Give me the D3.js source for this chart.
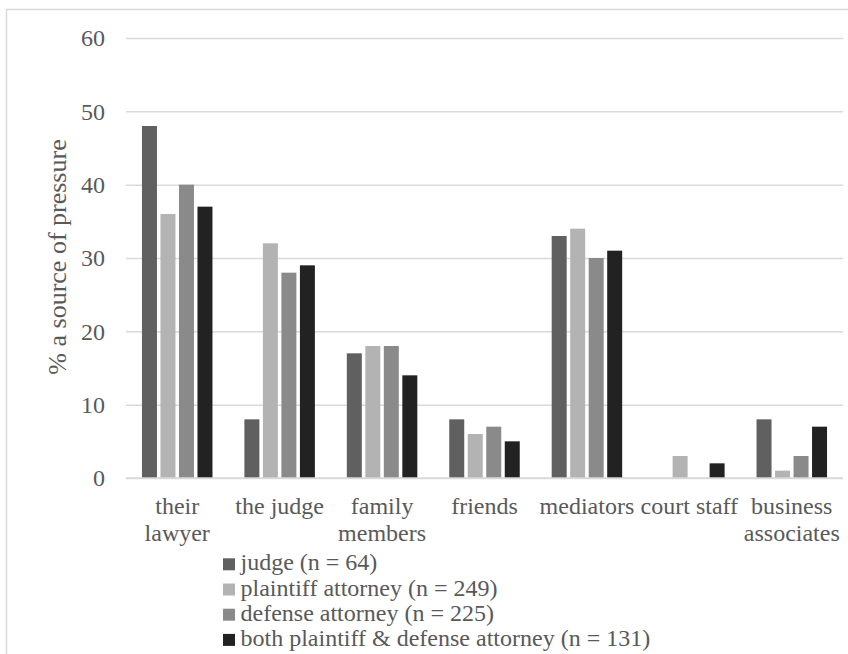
<!DOCTYPE html>
<html>
<head>
<meta charset="utf-8">
<script src="https://cdn.jsdelivr.net/npm/d3@7"></script>
<style>
  html, body { margin: 0; padding: 0; background: #fff; }
  svg { display: block; }
  text { font-family: "Liberation Serif", "Times New Roman", serif; fill: #595959; }
</style>
</head>
<body>
<svg id="chart" width="848" height="654"></svg>
<script>
const categories = ["their lawyer", "the judge", "family members", "friends", "mediators", "court staff", "business associates"];
const seriesNames = ["judge (n = 64)", "plaintiff attorney (n = 249)", "defense attorney (n = 225)", "both plaintiff & defense attorney (n = 131)"];
const judgeValues = [48, 8, 17, 8, 33, 0, 8];
const plaintiffValues = [36, 32, 18, 6, 34, 3, 1];
const defenseValues = [40, 28, 18, 7, 30, 0, 3];
const bothValues = [37, 29, 14, 5, 31, 2, 7];
const yTicks = [0, 10, 20, 30, 40, 50, 60];
const yTitle = "% a source of pressure";

const seriesValues = [judgeValues, plaintiffValues, defenseValues, bothValues];
const colors = ["#606060", "#b3b3b3", "#8a8a8a", "#222222"];
const FONT = "Liberation Serif, Times New Roman, serif";

const svg = d3.select("#chart");
const W = 848, H = 654;
const plot = { left: 126, right: 843, top: 38, bottom: 478 };
const fontSize = 24;

// frame
svg.append("path")
  .attr("d", `M6.5,${H} L6.5,9.5 L${W},9.5`)
  .attr("fill", "none").attr("stroke", "#d9d9d9").attr("stroke-width", 1.5);

const x = d3.scaleBand().domain(categories).range([plot.left, plot.right]).padding(0);
const bw = x.bandwidth();
const groupSpan = 70.5;
const xs = d3.scaleBand().domain(d3.range(seriesNames.length))
  .range([bw / 2 - groupSpan / 2, bw / 2 + groupSpan / 2]).paddingInner(0.19).paddingOuter(0);
const y = d3.scaleLinear().domain([0, 60]).range([plot.bottom, plot.top]);

// gridlines + tick labels
const yAxis = d3.axisLeft(y).tickValues(yTicks).tickSize(-(plot.right - plot.left)).tickPadding(21);
const gy = svg.append("g").attr("transform", `translate(${plot.left},0)`).call(yAxis);
gy.attr("font-family", FONT);
gy.select(".domain").remove();
gy.selectAll(".tick line").attr("stroke", "#d9d9d9").attr("stroke-width", 1.5);
gy.selectAll(".tick text").attr("font-size", fontSize)
  .attr("font-family", FONT).attr("fill", "#595959").attr("dy", "0.33em");

// bars
const groups = svg.append("g").selectAll("g").data(categories).join("g")
  .attr("transform", d => `translate(${x(d)},0)`);
groups.selectAll("rect")
  .data((c, ci) => seriesValues.map((vals, si) => ({ si, v: vals[ci] })))
  .join("rect")
  .attr("x", d => xs(d.si))
  .attr("width", xs.bandwidth())
  .attr("y", d => y(d.v))
  .attr("height", d => y(0) - y(d.v))
  .attr("fill", d => colors[d.si]);

// baseline
svg.append("line").attr("x1", plot.left).attr("x2", plot.right)
  .attr("y1", y(0)).attr("y2", y(0)).attr("stroke", "#d9d9d9").attr("stroke-width", 1.5);

// category labels with wrapping
const measure = svg.append("text").attr("font-size", fontSize).attr("font-family", FONT).attr("visibility", "hidden");
function textWidth(s) { measure.text(s); return measure.node().getComputedTextLength(); }
const maxW = bw;
categories.forEach(c => {
  const words = c.split(" ");
  const lines = [];
  let cur = "";
  words.forEach(w => {
    const t = cur ? cur + " " + w : w;
    if (cur && textWidth(t) > maxW) { lines.push(cur); cur = w; } else cur = t;
  });
  if (cur) lines.push(cur);
  const t = svg.append("text").attr("font-size", fontSize).attr("font-family", FONT).attr("text-anchor", "middle");
  lines.forEach((ln, i) => {
    t.append("tspan").attr("x", x(c) + bw / 2).attr("y", 513.5 + i * 27.7).text(ln);
  });
});
measure.remove();

// y title
svg.append("text").attr("font-size", 26).attr("font-family", FONT).attr("text-anchor", "middle")
  .attr("transform", `translate(66,257) rotate(-90)`).text(yTitle);

// legend
const legend = svg.append("g");
seriesNames.forEach((s, i) => {
  const base = 570.3 + i * 25.2;
  legend.append("rect").attr("x", 223).attr("y", base - 12).attr("width", 12).attr("height", 12).attr("fill", colors[i]);
  legend.append("text").attr("x", 240.5).attr("y", base).attr("font-size", fontSize).attr("font-family", FONT).text(s);
});
</script>
</body>
</html>
